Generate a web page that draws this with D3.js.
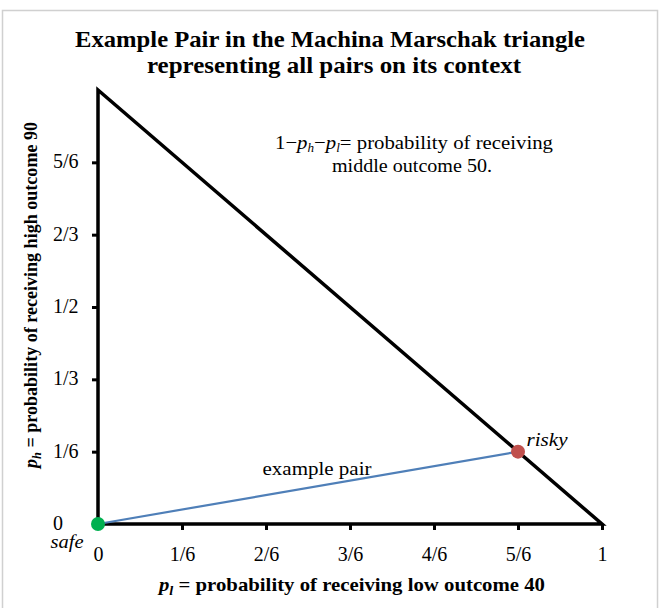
<!DOCTYPE html>
<html>
<head>
<meta charset="utf-8">
<script src="https://cdn.jsdelivr.net/npm/d3@7"></script>
<style>
  body { margin: 0; background: #fff; }
  text { font-family: "Liberation Serif", "Times New Roman", serif; fill: #000; }
</style>
</head>
<body>
<div id="chart"></div>
<script>
// triangle corners (p_l, p_h)
const triangle = [[0, 0], [1, 0], [0, 1]];
// example pair: safe and risky lottery
const pairNames = ["safe", "risky"];
const pairPl = [0, 5 / 6];
const pairPh = [0, 1 / 6];
const pairColors = ["#00b050", "#c0504d"];
// tick values and labels
const xTicks = [0, 1 / 6, 2 / 6, 3 / 6, 4 / 6, 5 / 6, 1];
const xTickLabels = ["0", "1/6", "2/6", "3/6", "4/6", "5/6", "1"];
const yTicks = [0, 1 / 6, 1 / 3, 1 / 2, 2 / 3, 5 / 6];
const yTickLabels = ["0", "1/6", "1/3", "1/2", "2/3", "5/6"];

const W = 667, H = 608;
const svg = d3.select("#chart").append("svg")
    .attr("width", W)
    .attr("height", H);

// outer frame
svg.append("rect")
    .attr("x", 2.5).attr("y", 10.5)
    .attr("width", 655).attr("height", 610)
    .attr("fill", "none")
    .attr("stroke", "#d0d0d0")
    .attr("stroke-width", 1.5);

const x = d3.scaleLinear().domain([0, 1]).range([98, 602]);
const y = d3.scaleLinear().domain([0, 1]).range([524, 90]);

// helper: text stretched to a given width
function label(px, py, size, width, txt) {
    return svg.append("text")
        .attr("x", px).attr("y", py)
        .attr("text-anchor", "middle")
        .attr("textLength", width)
        .attr("lengthAdjust", "spacingAndGlyphs")
        .style("font-size", size + "px")
        .text(txt);
}

// title
label(330, 47, 24, 510, "Example Pair in the Machina Marschak triangle").style("font-weight", "bold");
label(334, 73, 24, 374, "representing all pairs on its context").style("font-weight", "bold");

// axes ticks
svg.append("g")
    .attr("transform", `translate(0,${y(0)})`)
    .call(d3.axisBottom(x).tickValues(xTicks).tickSize(6).tickFormat((d, i) => xTickLabels[i]).tickPadding(17))
    .call(g => g.select(".domain").remove())
    .call(g => g.selectAll("line").attr("stroke", "#000").attr("stroke-width", 3))
    .call(g => g.selectAll("text").style("font-size", "20px").attr("font-family", null));

svg.append("g")
    .attr("transform", `translate(${x(0)},0)`)
    .call(d3.axisLeft(y).tickValues(yTicks).tickSize(6).tickFormat((d, i) => yTickLabels[i]))
    .call(g => g.select(".domain").remove())
    .call(g => g.selectAll("line").attr("stroke", "#000").attr("stroke-width", 3))
    .call(g => g.selectAll("text")
        .attr("x", 53 - x(0))
        .attr("dy", "0.28em")
        .attr("text-anchor", "start")
        .style("font-size", "20px").attr("font-family", null));

// triangle
svg.append("path")
    .attr("d", d3.line().x(d => x(d[0])).y(d => y(d[1]))(triangle) + "Z")
    .attr("fill", "none")
    .attr("stroke", "#000")
    .attr("stroke-width", 3.5)
    .attr("stroke-linejoin", "miter");

// example pair line
svg.append("line")
    .attr("x1", x(pairPl[0])).attr("y1", y(pairPh[0]))
    .attr("x2", x(pairPl[1])).attr("y2", y(pairPh[1]))
    .attr("stroke", "#4f7fb8").attr("stroke-width", 2.2);

svg.selectAll(".pt")
    .data(pairNames)
    .enter().append("circle")
    .attr("cx", (d, i) => x(pairPl[i]))
    .attr("cy", (d, i) => y(pairPh[i]))
    .attr("r", 7)
    .attr("fill", (d, i) => pairColors[i]);

// point labels
label(x(pairPl[1]) + 29, y(pairPh[1]) - 6, 19, 41, "risky").style("font-style", "italic");
label(67, 548, 18, 33, "safe").style("font-style", "italic");
label(317, 475, 19, 109, "example pair");

// annotation
const ann = label(414, 149, 19, 278, null);
ann.append("tspan").text("1\u2212");
ann.append("tspan").style("font-style", "italic").text("p");
ann.append("tspan").attr("dy", 3).style("font-size", "12px").style("font-style", "italic").text("h");
ann.append("tspan").attr("dy", -3).text("\u2212");
ann.append("tspan").style("font-style", "italic").text("p");
ann.append("tspan").attr("dy", 3).style("font-size", "12px").style("font-style", "italic").text("l");
ann.append("tspan").attr("dy", -3).text("= probability of receiving");
label(412, 172, 19, 160, "middle outcome 50.");

// x axis title
const xt = label(352, 591, 19, 386, null).style("font-weight", "bold");
xt.append("tspan").style("font-style", "italic").text("p");
xt.append("tspan").attr("dy", 4).style("font-size", "13px").style("font-style", "italic").text("l");
xt.append("tspan").attr("dy", -4).text(" = probability of receiving low outcome 40");

// y axis title
const yt = svg.append("text")
    .attr("transform", "translate(37,295) rotate(-90)")
    .attr("text-anchor", "middle")
    .attr("textLength", 346)
    .attr("lengthAdjust", "spacingAndGlyphs")
    .style("font-size", "19px").style("font-weight", "bold");
yt.append("tspan").style("font-style", "italic").text("p");
yt.append("tspan").attr("dy", 4).style("font-size", "13px").style("font-style", "italic").text("h");
yt.append("tspan").attr("dy", -4).text(" = probability of receiving high outcome 90");
</script>
</body>
</html>
